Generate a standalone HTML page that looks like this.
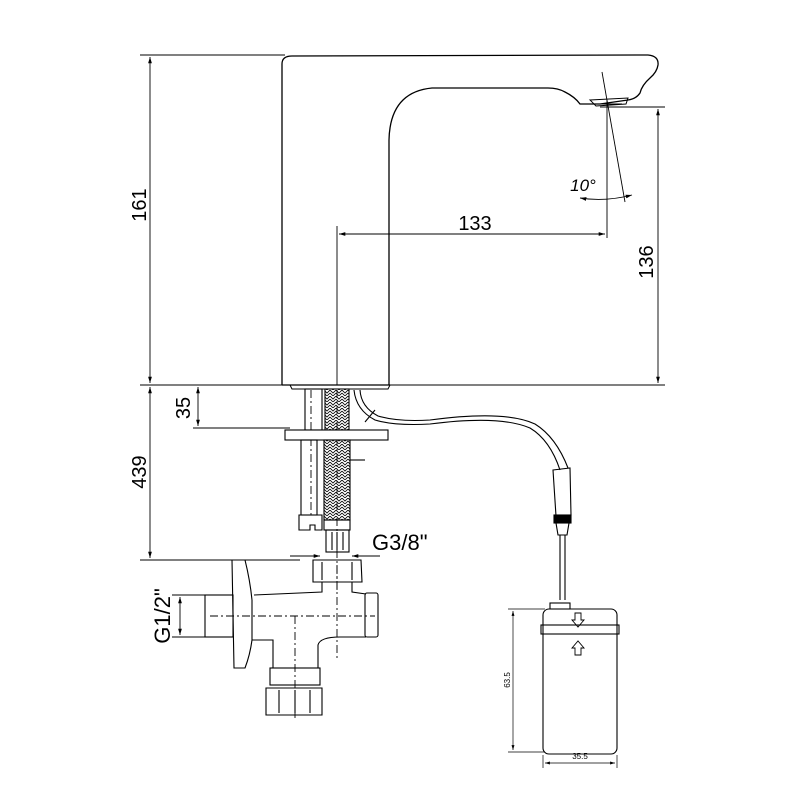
<!DOCTYPE html>
<html><head><meta charset="utf-8"><style>
html,body{margin:0;padding:0;background:#fff}
svg{display:block}
text{font-family:"Liberation Sans",sans-serif;fill:#000}
</style></head><body>
<svg width="800" height="800" viewBox="0 0 800 800" xmlns="http://www.w3.org/2000/svg">
<defs>
<pattern id="br" width="6" height="6" patternUnits="userSpaceOnUse">
<path d="M0 0 L3 3 L6 0 M0 3 L3 6 L6 3" stroke="#000" stroke-width="0.8" fill="none"/>
</pattern>
<marker id="ar" viewBox="0 0 10 10" refX="10" refY="5" markerWidth="7" markerHeight="7" orient="auto-start-reverse"><path d="M0 2 L10 5 L0 8 z" fill="#000"/></marker>
</defs>
<g fill="none" stroke="#000" stroke-width="1.3">
<!-- faucet body -->
<path d="M282 385 L282 64 Q282 56 292 56 L648 55 Q659 56 658 65 Q657 72 650 78 Q642 85 640 93 Q636 99 628 100 L600 104 L580 104 Q575 97 565 92 Q558 88 548 88 L432 88 Q390 92 389 140 L389 385"/>
<path d="M590 100 L628 98 L626 104 L596 106 Z" stroke-width="1"/>
<path d="M586 104 L622 104" stroke-width="1"/>
<!-- base -->
<path d="M282 385 L390 385"/>
<path d="M290 385 L292 389 L388 389 L390 385" stroke-width="1"/>
</g>
<g fill="none" stroke="#000" stroke-width="0.9">
<!-- extension lines / dims -->
<line x1="140" y1="55" x2="285" y2="55"/>
<line x1="140" y1="385" x2="665" y2="385"/>
<line x1="150" y1="57" x2="150" y2="383" marker-start="url(#ar)" marker-end="url(#ar)"/>
<line x1="600" y1="107" x2="665" y2="107"/>
<line x1="658" y1="109" x2="658" y2="383" marker-start="url(#ar)" marker-end="url(#ar)"/>
<line x1="337" y1="226" x2="337" y2="385"/>
<line x1="339" y1="234" x2="605" y2="234" marker-start="url(#ar)" marker-end="url(#ar)"/>
<line x1="607" y1="100" x2="607" y2="238"/>
<line x1="602" y1="72" x2="625" y2="202"/>
<path d="M580 198 Q605 202 632 195" marker-end="url(#ar)" marker-start="url(#ar)"/>
<line x1="198" y1="387" x2="198" y2="426" marker-start="url(#ar)" marker-end="url(#ar)"/>
<line x1="193" y1="428" x2="290" y2="428"/>
<line x1="150" y1="387" x2="150" y2="558" marker-start="url(#ar)" marker-end="url(#ar)"/>
<line x1="140" y1="560" x2="300" y2="560"/>
<line x1="290" y1="556" x2="320" y2="556" marker-end="url(#ar)"/>
<line x1="380" y1="556" x2="352" y2="556" marker-end="url(#ar)"/>
<line x1="352" y1="556" x2="380" y2="556"/>
<line x1="172" y1="595" x2="232" y2="595"/>
<line x1="172" y1="637" x2="232" y2="637"/>
<line x1="180" y1="597" x2="180" y2="635" marker-start="url(#ar)" marker-end="url(#ar)"/>
<!-- center lines -->
<line x1="337" y1="390" x2="337" y2="590" stroke-dasharray="8,3,2,3"/>
<line x1="311" y1="390" x2="311" y2="515" stroke-dasharray="8,3,2,3"/>
<line x1="337" y1="565" x2="337" y2="660" stroke-dasharray="8,3,2,3"/>
<line x1="210" y1="616" x2="375" y2="616" stroke-dasharray="8,3,2,3"/>
<line x1="295" y1="616" x2="295" y2="718" stroke-dasharray="8,3,2,3"/>
</g>
<g fill="none" stroke="#000" stroke-width="1.1">
<!-- pipes -->
<rect x="305" y="389" width="17" height="41"/>
<rect x="325" y="389" width="24" height="41" fill="url(#br)"/>
<rect x="285" y="430" width="103" height="10" fill="#fff"/>
<rect x="301" y="440" width="16" height="75"/>
<path d="M299 515 L322 515 L322 530 L315 530 L315 525 L310 525 L310 530 L299 530 Z"/>
<rect x="324" y="440" width="26" height="80" fill="url(#br)"/>
<line x1="350" y1="460" x2="365" y2="460"/>
<rect x="324" y="520" width="26" height="10"/>
<rect x="326" y="530" width="23" height="22"/>
<line x1="332" y1="532" x2="332" y2="550"/><line x1="337" y1="532" x2="337" y2="550"/><line x1="343" y1="532" x2="343" y2="550"/>
<!-- cable -->
<path d="M354 390 Q356 410 375 420 Q395 426 430 424 Q500 415 530 428 Q550 440 560 470"/>
<path d="M360 390 Q361 407 378 416 Q398 422 430 420 Q505 410 535 424 Q556 437 568 468"/>
<line x1="365" y1="422" x2="375" y2="410"/>
<path d="M553 470 L570 468 L571 515 L556 516 Z"/>
<rect x="554" y="515" width="17" height="8" fill="#000"/>
<path d="M556 523 L569 523 L567 535 L558 535 Z"/>
<line x1="560" y1="535" x2="560" y2="600"/><line x1="565" y1="535" x2="565" y2="600"/>
<!-- valve -->
<path d="M313 560 L361 560 L362 582 L313 582 Z"/>
<line x1="322" y1="562" x2="322" y2="580"/><line x1="352" y1="562" x2="352" y2="580"/>
<path d="M322 582 L322 592 L254 595 M352 582 L352 592 L366 594 M252 640 L273 640 L273 668 M318 668 L318 645 Q320 637 340 637 L366 637"/>
<rect x="365" y="593" width="13" height="44" rx="2"/>
<path d="M232 560 L245 560 Q250 580 252 600 L252 640 Q250 655 245 668 L234 668 Z"/>
<rect x="205" y="595" width="28" height="42"/>
<rect x="270" y="668" width="50" height="17"/>
<path d="M266 688 L322 688 L322 715 L266 715 Z"/>
<line x1="279" y1="690" x2="279" y2="713"/><line x1="295" y1="690" x2="295" y2="713"/><line x1="310" y1="690" x2="310" y2="713"/>
<!-- battery box -->
<rect x="543" y="609" width="74" height="145" rx="6"/>
<rect x="541" y="625" width="78" height="9"/>
<rect x="550" y="603" width="20" height="6"/>
<path d="M575 613 L581 613 L581 620 L584 620 L578 627 L572 620 L575 620 Z" stroke-width="0.9"/>
<path d="M575 655 L581 655 L581 648 L584 648 L578 641 L572 648 L575 648 Z" stroke-width="0.9"/>
</g>
<g fill="none" stroke="#000" stroke-width="0.7">
<line x1="508" y1="609" x2="545" y2="609"/>
<line x1="508" y1="752" x2="545" y2="752"/>
<line x1="513" y1="611" x2="513" y2="750" marker-start="url(#ar)" marker-end="url(#ar)"/>
<line x1="543" y1="755" x2="543" y2="768"/>
<line x1="617" y1="755" x2="617" y2="768"/>
<line x1="545" y1="763" x2="615" y2="763" marker-start="url(#ar)" marker-end="url(#ar)"/>
</g>
<text x="475" y="230" font-size="20" text-anchor="middle">133</text>
<text x="583" y="191" font-size="17" text-anchor="middle" font-style="italic">10°</text>
<text transform="translate(146,205) rotate(-90)" font-size="20" text-anchor="middle">161</text>
<text transform="translate(653,262) rotate(-90)" font-size="20" text-anchor="middle">136</text>
<text transform="translate(190,408) rotate(-90)" font-size="20" text-anchor="middle">35</text>
<text transform="translate(146,472) rotate(-90)" font-size="20" text-anchor="middle">439</text>
<text x="372" y="550" font-size="22" font-family="DejaVu Sans Condensed,DejaVu Sans,sans-serif">G3/8"</text>
<text transform="translate(170,616) rotate(-90)" font-size="22" text-anchor="middle" font-family="DejaVu Sans Condensed,DejaVu Sans,sans-serif">G1/2"</text>
<text transform="translate(510,680) rotate(-90)" font-size="8" text-anchor="middle">63.5</text>
<text x="580" y="759" font-size="8" text-anchor="middle">35.5</text>
</svg>
</body></html>
